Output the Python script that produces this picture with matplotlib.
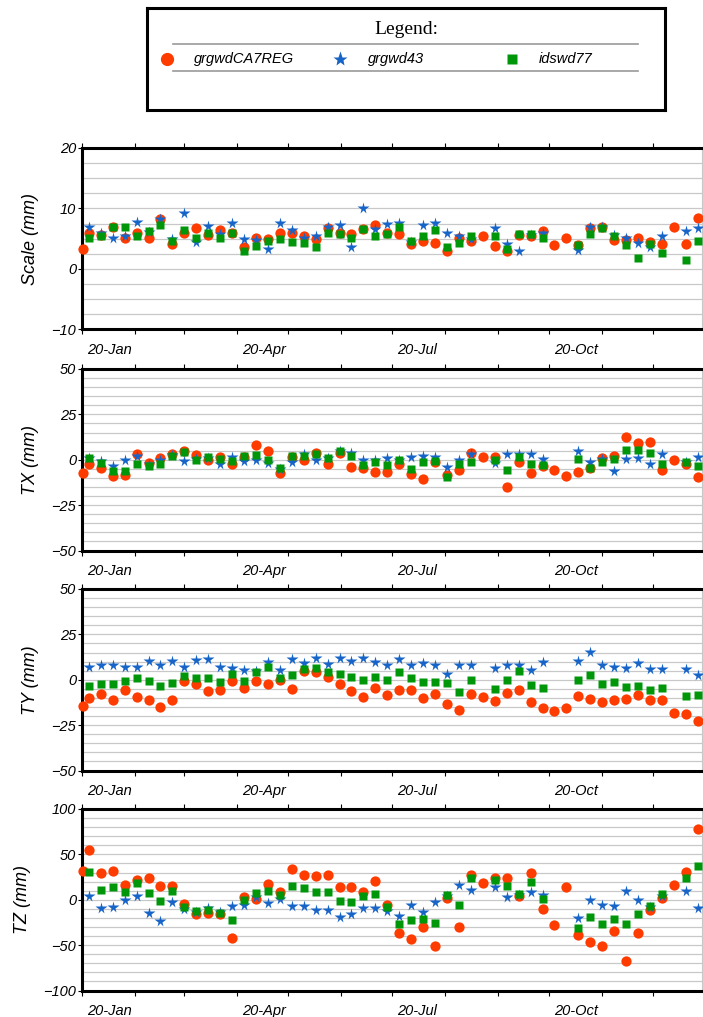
import numpy as np
import pandas as pd
import matplotlib
matplotlib.use('Agg')
import matplotlib.pyplot as plt
import matplotlib.dates as mdates
from matplotlib.ticker import MultipleLocator, FixedLocator, FuncFormatter
from matplotlib.transforms import ScaledTranslation

plt.rcParams['font.family'] = 'Liberation Sans'

# 날짜: 첫 점(red만) + 주간 52개
dates = [pd.Timestamp('2020-01-20 14:00')] + list(pd.date_range('2020-01-24', periods=52, freq='7D'))
N = None

# ---- Scale (mm)
scale_red = [3.3, 5.9, 5.6, 7.0, 5.2, 6.0, 5.1, 8.2, 4.1, 5.9, 6.7, 5.6, 6.5, 6.0, 3.7, 5.2, 4.9, 6.0, 5.9, 5.5,
             4.9, 6.7, 6.0, 5.8, 6.6, 7.3, 6.0, 5.8, 4.1, 4.7, 4.3, 3.0, 5.2, 4.7, 5.5, 3.8, 2.9, 5.6, 5.4, 6.2,
             4.0, 5.2, 4.0, 6.7, 7.0, 4.8, 4.8, 5.2, 4.4, 4.1, 6.9, 4.1, 8.5]
scale_blue = [N, 6.9, 6.0, 5.1, 5.5, 7.8, 6.1, 8.3, 4.9, 9.2, 4.4, 7.1, 5.8, 7.6, 5.0, 4.8, 3.3, 7.6, 6.5, 5.1,
              5.4, 6.9, 7.3, 3.6, 10.1, 6.6, 7.4, 7.6, 4.4, 7.3, 7.6, 6.0, 5.5, 5.0, N, 6.8, 4.1, 3.0, 5.6, 6.0,
              N, N, 3.2, 6.9, 6.9, 5.7, 5.2, 4.3, 3.6, 5.5, N, 6.2, 6.7]
scale_green = [N, 5.1, 5.5, 6.9, 7.0, 5.4, 6.2, 7.3, 4.7, 6.5, 5.2, 5.9, 5.2, 5.9, 2.9, 3.8, 4.7, 4.9, 4.5, 4.3,
               3.7, 6.0, 5.8, 5.1, 6.6, 5.5, 5.8, 7.0, 4.7, 5.5, 6.5, 3.7, 4.3, 5.4, N, 5.5, 3.3, 5.8, 5.8, 5.1,
               N, N, 4.0, 5.8, 6.7, 5.4, 4.0, 1.9, 4.1, 2.7, N, 1.5, 4.7]

# ---- TX (mm)
tx_red = [-7.2, -2.2, -4.4, -9.2, -8.6, 2.9, -1.8, 0.9, 2.9, 4.8, 2.4, -0.4, 1.5, -2.6, 1.5, 8.3, 4.6, -7.3, 1.5, -0.4,
          3.5, -2.2, 3.7, -4.0, -4.4, -6.8, -6.8, -2.6, -7.7, -10.5, -1.3, -8.5, -5.9, 3.7, 1.5, 1.5, -15.0, -1.3, -7.3, -3.7,
          -5.9, -9.2, -6.8, -4.4, 1.1, 1.8, 12.8, 9.2, 9.7, -5.9, -0.4, -2.2, -9.5]
tx_blue = [N, 1.0, -0.7, -3.7, -0.4, 1.8, -2.5, 0.0, 2.5, -0.7, 0.5, 1.0, -2.6, 1.5, -0.7, 0.0, -1.8, -5.0, -1.5, 3.0,
           -0.4, 1.0, 4.8, 3.7, 0.0, 0.0, 1.1, 0.0, 1.5, 1.8, 1.5, -4.0, 0.0, 2.9, N, -1.8, 2.9, 2.9, 3.3, 0.4,
           N, N, 4.8, -1.3, 0.5, -6.2, 0.2, 1.1, -2.6, 2.9, N, -1.0, 1.5]
tx_green = [N, 1.1, -1.8, -6.4, -6.2, -2.6, -3.7, -2.2, 2.0, 4.2, 0.0, 1.5, 0.4, -0.7, 1.8, 2.4, 0.0, -4.4, 2.0, 1.8,
            3.3, 1.1, 4.8, 1.8, -3.1, -1.3, -3.1, 0.0, -5.0, -1.3, -0.7, -9.5, -2.6, -1.3, N, 0.0, -5.9, 1.5, -2.6, -3.1,
            N, N, 0.6, -4.4, -1.3, 0.2, 5.5, 5.1, 3.9, -2.2, N, -1.3, -3.7]

# ---- TY (mm)
ty_red = [-14.7, -9.9, -8.1, -11.0, -5.5, -9.5, -11.0, -15.0, -11.0, -0.7, -2.2, -6.2, -5.5, -0.7, -4.4, -0.7, -2.6, 0.0, -5.0, 4.8,
          4.2, 1.5, -2.6, -6.2, -9.5, -4.4, -8.6, -5.5, -5.9, -9.9, -7.7, -13.2, -16.5, -8.1, -9.5, -11.7, -7.3, -5.5, -12.3, -15.4,
          -17.2, -15.4, -9.2, -10.5, -12.3, -11.0, -10.5, -8.6, -11.0, -11.0, -18.3, -18.7, -22.8]
ty_blue = [N, 7.0, 7.9, 8.4, 7.3, 7.0, 10.3, 7.9, 10.6, 7.0, 11.0, 11.2, 7.0, 6.6, 5.5, 5.0, 9.7, 5.5, 11.2, 9.2,
           11.9, 8.8, 12.1, 10.4, 11.9, 9.7, 7.9, 11.6, 7.9, 9.4, 7.9, 3.3, 8.3, 8.3, N, 6.4, 8.3, 7.9, 5.1, 9.7,
           N, N, 10.6, 15.2, 8.4, 7.3, 6.6, 9.2, 6.1, 6.1, N, 6.1, 2.4]
ty_green = [N, -3.7, -2.6, -2.6, -0.7, 1.1, -0.7, -3.7, -1.8, 1.8, 1.1, 1.1, -1.3, 2.9, -0.7, 4.2, 7.3, 1.1, 2.4, 6.1,
            6.6, 4.2, 2.9, 1.5, 0.0, 1.5, -0.4, 4.2, 1.1, -1.3, -1.3, -1.8, -6.8, 0.0, N, -5.0, -0.4, 4.8, -3.1, -4.4,
            N, N, -0.4, 2.8, -2.6, -1.3, -4.0, -3.7, -5.9, -4.4, N, -9.2, -8.6]

# ---- TZ (mm)
tz_red = [32.2, 54.3, 29.2, 32.2, 16.3, 22.2, 23.7, 14.8, 14.8, -4.8, -15.9, -14.8, -15.9, -41.8, 3.3, 0.7, 17.4, 8.1, 34.0, 27.7,
          26.6, 27.7, 14.4, 13.7, 8.1, 20.3, -5.9, -37.0, -42.9, -29.6, -51.0, 1.5, -29.6, 27.7, 18.1, 24.0, 23.7, 3.7, 29.2, -10.4,
          -27.7, 13.7, -39.2, -46.2, -51.0, -34.4, -67.7, -37.0, -11.5, 1.5, 16.6, 31.1, 77.6]
tz_blue = [N, 4.4, -9.6, -7.8, -0.4, 4.4, -14.8, -23.3, -2.2, -10.4, -13.0, -9.6, -14.0, -6.7, -5.9, 3.0, -3.7, 0.7, -7.4, -7.4,
           -11.1, -11.1, -18.5, -15.9, -9.6, -9.6, -12.2, -17.7, -5.9, -13.3, -3.0, 4.0, 16.3, 11.1, N, 13.7, 2.6, 5.0, 8.1, 5.2,
           N, N, -19.6, -0.4, -5.9, -6.7, 9.2, 0.0, -8.0, 4.0, N, 10.0, -9.6]
tz_green = [N, 30.3, 10.7, 13.7, 8.1, 18.5, 7.0, -1.1, 9.2, -7.8, -12.2, -11.1, -14.8, -22.6, 0.0, 7.4, 10.0, 5.5, 15.5, 12.6,
            8.1, 8.1, -1.8, -2.2, 3.7, 6.3, -8.5, -27.0, -22.2, -21.4, -25.9, 5.5, -5.9, 23.7, N, 21.8, 14.8, 6.3, 19.2, 0.7,
            N, N, -30.7, -18.9, -26.2, -21.4, -27.0, -15.2, -6.7, 6.3, N, 23.7, 37.0]

series_names = ['grgwdCA7REG', 'grgwd43', 'idswd77']
panel_labels = ['Scale (mm)', 'TX (mm)', 'TY (mm)', 'TZ (mm)']
panel_data = [(scale_red, scale_blue, scale_green), (tx_red, tx_blue, tx_green),
              (ty_red, ty_blue, ty_green), (tz_red, tz_blue, tz_green)]
y_limits = [(-10, 20), (-50, 50), (-50, 50), (-100, 100)]
y_major = [10, 25, 25, 50]
y_minor = [2.5, 5, 5, 10]

RED = '#ff3c00'
BLUE = '#1764c8'
GREEN = '#00960a'
GRID = '#c8c8c8'

W, H = 703, 1017
fig = plt.figure(figsize=(W / 100, H / 100), dpi=100)

x_start = pd.Timestamp('2020-01-20')
x_end = pd.Timestamp('2021-01-17 12:00')
ax_left, ax_right = 82, 702
panel_tops = [148, 369, 589, 809]
panel_h = 181.5

# 매월 20일 눈금
month_ticks = pd.date_range('2020-01-01', '2021-01-01', freq='MS') + pd.Timedelta(days=19)
label_months = (1, 4, 7, 10)


def fmt_date(v, pos):
    d = mdates.num2date(v)
    return d.strftime('%d-%b') if d.month in label_months else ''


for i, (label, (r, b, g)) in enumerate(zip(panel_labels, panel_data)):
    top = panel_tops[i]
    ax = fig.add_axes([ax_left / W, 1 - (top + panel_h) / H, (ax_right - ax_left) / W, panel_h / H])

    ax.plot(dates, np.array(r, dtype=float), 'o', color=RED, ms=7.4, mec='none', zorder=3, clip_on=False)
    ax.plot(dates, np.array(b, dtype=float), '*', color=BLUE, ms=8.5, mec='none', zorder=4, clip_on=False)
    ax.plot(dates, np.array(g, dtype=float), 's', color=GREEN, ms=6.4, mec='none', zorder=5, clip_on=False)

    ax.set_xlim(x_start, x_end)
    ax.set_ylim(*y_limits[i])
    ax.yaxis.set_major_locator(MultipleLocator(y_major[i]))
    ax.yaxis.set_minor_locator(MultipleLocator(y_minor[i]))
    ax.grid(True, which='both', axis='y', color=GRID, lw=0.9, zorder=0)
    ax.set_axisbelow(True)

    ax.xaxis.set_major_locator(FixedLocator(mdates.date2num(month_ticks)))
    ax.xaxis.set_major_formatter(FuncFormatter(fmt_date))
    ax.tick_params(axis='x', which='major', direction='out', length=3.5, width=0.8,
                   top=True, labelsize=10.5, pad=6)
    ax.tick_params(axis='y', which='major', direction='out', length=3.2, width=0.8,
                   labelsize=10.5, pad=1)
    ax.tick_params(axis='y', which='minor', length=0)
    shift = ScaledTranslation(0.05, 0, fig.dpi_scale_trans)
    for t in ax.get_xticklabels():
        t.set_horizontalalignment('left')
        t.set_transform(t.get_transform() + shift)
        t.set_fontstyle('italic')
    for t in ax.get_yticklabels():
        t.set_fontstyle('italic')

    for side in ('left', 'bottom', 'top'):
        ax.spines[side].set_linewidth(2.2)
        ax.spines[side].set_color('black')
    ax.spines['right'].set_linewidth(0.8)
    ax.spines['right'].set_color(GRID)

    ax.set_ylabel(label, fontsize=13, fontstyle='italic', labelpad=9)

# 범례 상자
lax = fig.add_axes([147 / W, 1 - 110 / H, (665 - 147) / W, (110 - 7.5) / H])
lax.set_xlim(147, 665)
lax.set_ylim(110, 7.5)
lax.set_xticks([])
lax.set_yticks([])
for s in lax.spines.values():
    s.set_linewidth(2.2)
    s.set_color('black')
lax.text(406, 29, 'Legend:', ha='center', va='center', fontsize=14, family='Liberation Serif')
for yy in (44.3, 70.7):
    lax.plot([173, 638], [yy, yy], color='#999999', lw=1.2)
leg_y = 59.3
lax.plot([166.7], [leg_y], 'o', color=RED, ms=9.5, mec='none')
lax.plot([340], [leg_y], '*', color=BLUE, ms=11, mec='none')
lax.plot([511.7], [leg_y], 's', color=GREEN, ms=7.2, mec='none')
for x0, name in zip((194.3, 367.7, 538.3), series_names):
    lax.text(x0, leg_y, name, ha='left', va='center', fontsize=10.5, fontstyle='italic')

fig.savefig('out.png', dpi=100)
plt.close(fig)
